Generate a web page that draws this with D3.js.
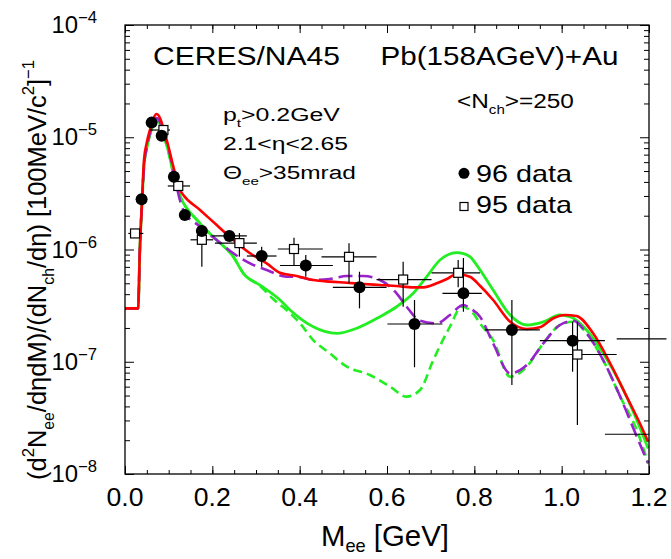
<!DOCTYPE html>
<html><head><meta charset="utf-8">
<script src="https://cdn.jsdelivr.net/npm/d3@7"></script>
<style>body{margin:0;background:#fff} text{font-family:"Liberation Sans",Arial,Helvetica,sans-serif;fill:#000}</style>
</head><body><svg id="c" width="671" height="559"></svg>
<script>
// ---------------- data ----------------
const xTickValues = [0, 0.2, 0.4, 0.6, 0.8, 1.0, 1.2];
const xTickLabels = ["0.0", "0.2", "0.4", "0.6", "0.8", "1.0", "1.2"];
const yTickValues = [1e-8, 1e-7, 1e-6, 1e-5, 1e-4];
const yTickExponents = ["\u22128", "\u22127", "\u22126", "\u22125", "\u22124"];

// red solid curve
const redM = [0, 0.030, 0.034, 0.039, 0.0435, 0.0497, 0.057, 0.0726, 0.0955, 0.1107, 0.126, 0.1335, 0.1718, 0.21, 0.248, 0.2863, 0.3245, 0.355, 0.393, 0.431, 0.469, 0.508, 0.546, 0.584, 0.622, 0.660, 0.683, 0.714, 0.737, 0.760, 0.790, 0.813, 0.843, 0.882, 0.920, 0.950, 0.981, 1.008, 1.034, 1.072, 1.111, 1.149, 1.179, 1.198];
const redY = [2.99e-7, 2.99e-7, 9.9e-7, 2.76e-6, 6.27e-6, 8.89e-6, 1.16e-5, 1.61e-5, 9.45e-6, 5.47e-6, 3.39e-6, 3.06e-6, 2.25e-6, 1.65e-6, 1.215e-6, 9.25e-7, 7.53e-7, 6.21e-7, 5.81e-7, 5.35e-7, 5.17e-7, 5.06e-7, 4.93e-7, 4.83e-7, 4.73e-7, 4.60e-7, 4.60e-7, 5.0e-7, 5.46e-7, 6.05e-7, 5.72e-7, 4.75e-7, 3.55e-7, 2.27e-7, 1.96e-7, 2.03e-7, 2.44e-7, 2.61e-7, 2.56e-7, 1.79e-7, 9.7e-8, 4.89e-8, 2.83e-8, 1.94e-8];

// green solid curve
const greenM = [0, 0.030, 0.034, 0.039, 0.0435, 0.0497, 0.057, 0.0726, 0.0955, 0.1184, 0.1718, 0.21, 0.248, 0.271, 0.31, 0.355, 0.378, 0.4008, 0.431, 0.485, 0.531, 0.584, 0.622, 0.660, 0.691, 0.7214, 0.760, 0.790, 0.805, 0.843, 0.882, 0.920, 0.958, 0.996, 1.019, 1.057, 1.095, 1.134, 1.172, 1.198];
const greenY = [2.99e-7, 2.99e-7, 9.9e-7, 2.6e-6, 5.5e-6, 8.0e-6, 1.05e-5, 1.42e-5, 8.5e-6, 3.63e-6, 1.71e-6, 1.215e-6, 8.63e-7, 6.14e-7, 4.8e-7, 3.55e-7, 2.89e-7, 2.44e-7, 2.05e-7, 1.79e-7, 1.99e-7, 2.52e-7, 3.09e-7, 4.07e-7, 5.72e-7, 8.06e-7, 9.36e-7, 8.63e-7, 7.3e-7, 4.36e-7, 2.61e-7, 2.125e-7, 2.27e-7, 2.61e-7, 2.52e-7, 1.92e-7, 1.19e-7, 6.43e-8, 3.03e-8, 1.69e-8];

// green dashed curve
const greenDashM = [0, 0.030, 0.034, 0.039, 0.0435, 0.0497, 0.057, 0.0726, 0.0955, 0.1184, 0.1718, 0.21, 0.248, 0.271, 0.31, 0.340, 0.370, 0.4008, 0.431, 0.469, 0.508, 0.561, 0.607, 0.645, 0.6756, 0.706, 0.744, 0.771, 0.7976, 0.813, 0.843, 0.882, 0.920, 0.958, 0.996, 1.027, 1.057, 1.095, 1.134, 1.172, 1.198];
const greenDashY = [2.99e-7, 2.99e-7, 9.9e-7, 2.6e-6, 5.5e-6, 8.0e-6, 1.05e-5, 1.42e-5, 8.5e-6, 3.63e-6, 1.71e-6, 1.215e-6, 8.63e-7, 6.14e-7, 4.7e-7, 3.6e-7, 2.89e-7, 2.20e-7, 1.56e-7, 1.19e-7, 9.03e-8, 7.62e-8, 6.0e-8, 4.89e-8, 5.6e-8, 1.036e-7, 2.05e-7, 3.09e-7, 2.70e-7, 2.20e-7, 1.56e-7, 7.36e-8, 9.03e-8, 1.46e-7, 2.125e-7, 2.27e-7, 1.79e-7, 1.036e-7, 4.89e-8, 2.47e-8, 1.245e-8];

// purple dashed curve
const purpleM = [0, 0.030, 0.034, 0.039, 0.0435, 0.0497, 0.057, 0.0726, 0.0955, 0.1335, 0.1718, 0.21, 0.248, 0.2863, 0.3245, 0.370, 0.393, 0.431, 0.469, 0.508, 0.546, 0.584, 0.622, 0.645, 0.6756, 0.714, 0.744, 0.775, 0.790, 0.813, 0.843, 0.882, 0.920, 0.958, 0.996, 1.027, 1.057, 1.095, 1.134, 1.172, 1.198];
const purpleY = [2.99e-7, 2.99e-7, 9.9e-7, 2.6e-6, 5.5e-6, 8.0e-6, 1.08e-5, 1.48e-5, 9.0e-6, 2.25e-6, 1.6e-6, 1.215e-6, 9.25e-7, 7.53e-7, 6.57e-7, 5.72e-7, 5.72e-7, 5.35e-7, 5.46e-7, 5.81e-7, 5.81e-7, 5.35e-7, 4.07e-7, 3.09e-7, 2.32e-7, 2.20e-7, 2.61e-7, 3.20e-7, 2.99e-7, 2.52e-7, 1.46e-7, 7.89e-8, 9.35e-8, 1.46e-7, 2.125e-7, 2.32e-7, 1.8e-7, 1.036e-7, 4.89e-8, 2.15e-8, 1.245e-8];

// 96 data (filled circles)
const d96M   = [0.038, 0.061, 0.084, 0.112, 0.137, 0.176, 0.239, 0.313, 0.414, 0.537, 0.663, 0.775, 0.886, 1.025];
const d96Y   = [2.8e-6, 1.35e-5, 1.03e-5, 4.45e-6, 2.03e-6, 1.46e-6, 1.32e-6, 8.75e-7, 7.2e-7, 4.6e-7, 2.17e-7, 4.07e-7, 1.92e-7, 1.54e-7];
const d96MLo = [0.038, 0.061, 0.084, 0.112, 0.137, 0.176, 0.200, 0.279, 0.355, 0.476, 0.601, 0.727, 0.824, 0.950];
const d96MHi = [0.038, 0.061, 0.084, 0.112, 0.137, 0.176, 0.279, 0.347, 0.476, 0.599, 0.727, 0.817, 0.950, 1.099];
const d96YLo = [2.8e-6, 1.35e-5, 1.03e-5, 4.45e-6, 2.03e-6, 1.46e-6, 1.32e-6, 7.03e-7, 5.72e-7, 2.99e-7, 8.93e-8, 2.79e-7, 6.2e-8, 8.15e-8];
const d96YHi = [2.8e-6, 1.35e-5, 1.03e-5, 4.45e-6, 2.03e-6, 1.46e-6, 1.32e-6, 1.06e-6, 8.94e-7, 6.34e-7, 3.55e-7, 8.4e-7, 3.55e-7, 2.27e-7];

// 95 data (open squares)
const d95M   = [0.023, 0.088, 0.122, 0.176, 0.262, 0.387, 0.513, 0.637, 0.763, 1.036];
const d95Y   = [1.39e-6, 1.16e-5, 3.68e-6, 1.22e-6, 1.14e-6, 1.01e-6, 8.6e-7, 5.4e-7, 6.2e-7, 1.16e-7];
const d95MLo = [0.0076, 0.057, 0.098, 0.150, 0.206, 0.350, 0.450, 0.576, 0.702, 0.949];
const d95MHi = [0.042, 0.103, 0.149, 0.202, 0.302, 0.453, 0.576, 0.702, 0.813, 1.126];
const d95YLo = [1.39e-6, 1.16e-5, 3.68e-6, 7.03e-7, 8.63e-7, 7.28e-7, 5.0e-7, 3.09e-7, 4.62e-7, 2.73e-8];
const d95YHi = [1.39e-6, 1.16e-5, 3.68e-6, 1.49e-6, 1.40e-6, 1.27e-6, 1.135e-6, 7.79e-7, 8.06e-7, 2.27e-7];

// horizontal bars of points whose markers are not drawn
const extraMLo = [1.126, 1.099];
const extraMHi = [1.240, 1.200];
const extraY   = [1.6e-7, 2.26e-8];

// ---------------- drawing ----------------
const svg = d3.select('#c');
const W = 671, H = 559;
const L = 125, R = 649, T = 25, B = 474;
const x = d3.scaleLinear().domain([0, 1.2]).range([L, R]);
const y = d3.scaleLog().domain([1e-8, 1e-4]).range([B, T]);

svg.append('rect').attr('width', W).attr('height', H).attr('fill', '#fff');

// helper: rich text with sub/superscripts, stretched to a target width
function richText(parent, parts, px, py, fs, targetW, anchor, subShift) {
  const t = parent.append('text').attr('font-size', fs);
  let shift = 0;
  const sb = subShift === undefined ? 0.32 : subShift;
  parts.forEach(p => {
    const [s, k] = p;
    let target = 0, size = fs;
    if (k === 'sub') { target = sb * fs; size = 0.62 * fs; }
    if (k === 'sup') { target = -0.45 * fs; size = 0.65 * fs; }
    t.append('tspan').attr('dy', target - shift).attr('font-size', size).text(s);
    shift = target;
  });
  const w = t.node().getComputedTextLength();
  const sx = targetW ? targetW / w : 1;
  let x0 = px;
  if (anchor === 'middle') x0 = px - w * sx / 2;
  if (anchor === 'end') x0 = px - w * sx;
  t.attr('transform', `translate(${x0},${py}) scale(${sx},1)`);
  return t;
}

// minor ticks
const xMinor = d3.range(0, 1.2001, 0.05).map(v => +v.toFixed(2));
const yMinor = [];
for (let e = -8; e < -4; e++) for (let m = 2; m <= 9; m++) yMinor.push(m * Math.pow(10, e));

const axes = svg.append('g').attr('stroke', '#000');
function tickAxis(gen, tr, vals, size) {
  const g = axes.append('g').attr('transform', tr)
    .call(gen.tickValues(vals).tickSize(-size).tickFormat(''));
  g.select('.domain').remove();
  g.selectAll('line').attr('stroke', '#000').attr('stroke-width', 1);
  g.selectAll('text').remove();
}
tickAxis(d3.axisBottom(x), `translate(0,${B})`, xMinor, 4);
tickAxis(d3.axisBottom(x), `translate(0,${B})`, xTickValues, 8);
tickAxis(d3.axisTop(x), `translate(0,${T})`, xMinor, 4);
tickAxis(d3.axisTop(x), `translate(0,${T})`, xTickValues, 8);
tickAxis(d3.axisLeft(y), `translate(${L},0)`, yMinor, 5);
tickAxis(d3.axisLeft(y), `translate(${L},0)`, yTickValues, 9);
tickAxis(d3.axisRight(y), `translate(${R},0)`, yMinor, 5);
tickAxis(d3.axisRight(y), `translate(${R},0)`, yTickValues, 9);

// curves
const line = d3.line().x(d => x(d[0])).y(d => y(d[1])).curve(d3.curveMonotoneX);
const curves = [
  {m: greenDashM, v: greenDashY, c: '#22ee22', w: 2.6, dash: '9,5'},
  {m: greenM, v: greenY, c: '#22ee22', w: 2.8, dash: null},
  {m: purpleM, v: purpleY, c: '#9922cc', w: 2.6, dash: '14,6'},
  {m: redM, v: redY, c: '#ff0000', w: 2.6, dash: null}
];
curves.forEach(cv => {
  svg.append('path').datum(d3.zip(cv.m, cv.v)).attr('d', line)
    .attr('fill', 'none').attr('stroke', cv.c).attr('stroke-width', cv.w)
    .attr('stroke-dasharray', cv.dash).attr('stroke-linejoin', 'round');
});

// frame
svg.append('rect').attr('x', L).attr('y', T).attr('width', R - L).attr('height', B - T)
  .attr('fill', 'none').attr('stroke', '#000').attr('stroke-width', 1.3);

// error bars
const eb = svg.append('g').attr('stroke', '#000').attr('stroke-width', 1.2);
function bars(M, Y, MLo, MHi, YLo, YHi) {
  M.forEach((m, i) => {
    if (MHi[i] > MLo[i]) eb.append('line').attr('x1', x(MLo[i])).attr('x2', x(MHi[i])).attr('y1', y(Y[i])).attr('y2', y(Y[i]));
    if (YHi[i] > YLo[i]) eb.append('line').attr('x1', x(m)).attr('x2', x(m)).attr('y1', y(YLo[i])).attr('y2', y(YHi[i]));
  });
}
bars(d96M, d96Y, d96MLo, d96MHi, d96YLo, d96YHi);
bars(d95M, d95Y, d95MLo, d95MHi, d95YLo, d95YHi);
extraY.forEach((v, i) => eb.append('line').attr('x1', x(extraMLo[i])).attr('x2', x(extraMHi[i])).attr('y1', y(v)).attr('y2', y(v)));

// markers
svg.append('g').selectAll('rect').data(d3.zip(d95M, d95Y)).join('rect')
  .attr('x', d => x(d[0]) - 4.5).attr('y', d => y(d[1]) - 4.5).attr('width', 9).attr('height', 9)
  .attr('fill', '#fff').attr('stroke', '#000').attr('stroke-width', 1.2);
svg.append('g').selectAll('circle').data(d3.zip(d96M, d96Y)).join('circle')
  .attr('cx', d => x(d[0])).attr('cy', d => y(d[1])).attr('r', 6).attr('fill', '#000');

// axis labels
xTickValues.forEach((v, i) => richText(svg, [[xTickLabels[i], 'n']], x(v), 506, 25, 37, 'middle'));
yTickValues.forEach((v, i) => {
  const t = svg.append('text').attr('font-size', 23).attr('text-anchor', 'end')
    .attr('x', 0).attr('y', 0);
  t.append('tspan').text('10');
  t.append('tspan').attr('font-size', 16).attr('dy', -10).text(yTickExponents[i]);
  t.attr('transform', `translate(97,${y(v) + 8}) scale(1.04,1)`);
});

// axis titles
richText(svg, [['M', 'n'], ['ee', 'sub'], [' [GeV]', 'n']], 385, 546, 30, 128, 'middle', 0.2);
const yt = svg.append('g').attr('transform', 'translate(46,270) rotate(-90)');
richText(yt, [['(d', 'n'], ['2', 'sup'], ['N', 'n'], ['ee', 'sub'], ['/d\u03b7dM)/(dN', 'n'], ['ch', 'sub'], ['/d\u03b7) [100MeV/c', 'n'], ['2', 'sup'], [']', 'n'], ['\u22121', 'sup']], 0, 0, 26, 420, 'middle');

// annotations
richText(svg, [['CERES/NA45', 'n']], 153, 64.5, 26.5, 187);
richText(svg, [['Pb(158AGeV)+Au', 'n']], 380.5, 65, 26.5, 238);
richText(svg, [['p', 'n'], ['t', 'sub'], ['>0.2GeV', 'n']], 223, 120.5, 19, 117);
richText(svg, [['2.1<\u03b7<2.65', 'n']], 223, 150, 19, 125);
richText(svg, [['\u0398', 'n'], ['ee', 'sub'], ['>35mrad', 'n']], 223, 179, 19, 133);
richText(svg, [['<N', 'n'], ['ch', 'sub'], ['>=250', 'n']], 457, 108, 19.5, 117);

// legend
svg.append('circle').attr('cx', 464).attr('cy', 173.3).attr('r', 5.5).attr('fill', '#000');
svg.append('rect').attr('x', 460).attr('y', 202.5).attr('width', 8).attr('height', 8)
  .attr('fill', '#fff').attr('stroke', '#000').attr('stroke-width', 1.2);
richText(svg, [['96 data', 'n']], 476, 182, 23, 96);
richText(svg, [['95 data', 'n']], 476, 213, 23, 96);
</script></body></html>
